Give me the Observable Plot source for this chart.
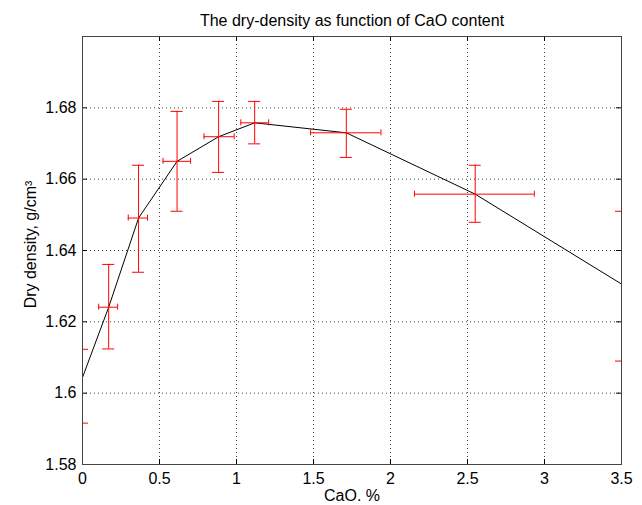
<!DOCTYPE html>
<html><head><meta charset="utf-8">
<script src="https://cdn.jsdelivr.net/npm/d3@7"></script>
<script src="https://cdn.jsdelivr.net/npm/@observablehq/plot@0.6"></script>
<style>
body{margin:0;background:#fff;}
#chart svg{display:block;}
</style></head><body><div id="chart"></div>
<script>
const title = "The dry-density as function of CaO content";
const xLabel = "CaO. %";
const yLabel = "Dry density, g/cm³";
const xTicks = [0, 0.5, 1, 1.5, 2, 2.5, 3, 3.5];
const yTicks = [1.58, 1.6, 1.62, 1.64, 1.66, 1.68];
const xDomain = [0, 3.5];
const yDomain = [1.58, 1.70];

// measured points (CaO %, dry density) with error bounds
const cao         = [0,      0.170,  0.364,  0.614,  0.884,  1.118,  1.713,  2.550,  3.5];
const density     = [1.602,  1.6241, 1.6491, 1.665,  1.6719, 1.6758, 1.673,  1.6558, 1.630];
const densityLow  = [1.5916, 1.6124, 1.6339, 1.651,  1.6619, 1.6699, 1.6661, 1.6479, 1.609];
const densityHigh = [1.6123, 1.6361, 1.6639, 1.679,  1.6818, 1.6818, 1.6796, 1.6639, 1.651];
const caoLow      = [null,   0.105,  0.297,  0.523,  0.789,  1.028,  1.481,  2.156,  null];
const caoHigh     = [null,   0.228,  0.422,  0.702,  0.985,  1.209,  1.938,  2.934,  null];
// fitted curve through the points
const fitDensity  = [1.6044, 1.6241, 1.6491, 1.665,  1.6719, 1.6758, 1.673,  1.6558, 1.6306];

const pts = cao.map((x, i) => ({x, y: density[i], lo: densityLow[i], hi: densityHigh[i], xlo: caoLow[i], xhi: caoHigh[i]}));
const hpts = pts.filter(d => d.xlo != null);
const fit = cao.map((x, i) => ({x, y: fitDensity[i]}));

const W = 642, H = 505, mL = 82, mR = 21, mT = 36, mB = 41;
const pw = W - mL - mR, ph = H - mT - mB;
const tick = 5;
const red = "#ff0000";
const grid = {stroke: "#000", strokeOpacity: 0.75, strokeDasharray: "1,3"};

const chart = Plot.plot({
  width: W, height: H,
  marginLeft: mL, marginRight: mR, marginTop: mT, marginBottom: mB,
  style: {fontFamily: "'Liberation Sans', Arial, sans-serif", fontSize: "16px", color: "#000", background: "#fff"},
  x: {domain: xDomain},
  y: {domain: yDomain},
  marks: [
    Plot.gridX(xTicks, grid),
    Plot.gridY(yTicks, grid),
    Plot.ruleX(xTicks, {insetTop: ph - tick, stroke: "#000"}),
    Plot.ruleX(xTicks, {insetBottom: ph - tick, stroke: "#000"}),
    Plot.ruleY(yTicks, {insetRight: pw - tick, stroke: "#000"}),
    Plot.ruleY(yTicks, {insetLeft: pw - tick, stroke: "#000"}),
    Plot.axisX(xTicks, {tickSize: 0, tickPadding: 8.5, label: null, tickFormat: d => String(d)}),
    Plot.axisY(yTicks, {tickSize: 0, tickPadding: 6, label: null, tickFormat: d => String(+d.toFixed(2))}),
    Plot.line(fit, {x: "x", y: "y", stroke: "#000", strokeWidth: 1, clip: true}),
    Plot.ruleX(pts, {x: "x", y1: "lo", y2: "hi", stroke: red, clip: true}),
    Plot.ruleY(pts, {y: "lo", x1: "x", x2: "x", insetLeft: -6, insetRight: -6, stroke: red, clip: true}),
    Plot.ruleY(pts, {y: "hi", x1: "x", x2: "x", insetLeft: -6, insetRight: -6, stroke: red, clip: true}),
    Plot.ruleY(hpts, {y: "y", x1: "xlo", x2: "xhi", stroke: red, clip: true}),
    Plot.ruleX(hpts, {x: "xlo", y1: "y", y2: "y", insetTop: -3, insetBottom: -3, stroke: red, clip: true}),
    Plot.ruleX(hpts, {x: "xhi", y1: "y", y2: "y", insetTop: -3, insetBottom: -3, stroke: red, clip: true}),
    Plot.frame({stroke: "#444"}),
    Plot.text([title], {frameAnchor: "top", lineAnchor: "middle", textAnchor: "middle", dy: -15.4, text: d => d}),
    Plot.text([xLabel], {frameAnchor: "bottom", lineAnchor: "middle", textAnchor: "middle", dy: 31.5, text: d => d}),
    Plot.text([yLabel], {frameAnchor: "left", lineAnchor: "middle", textAnchor: "middle", dx: -52, dy: -6, rotate: -90, text: d => d})
  ]
});
document.getElementById("chart").appendChild(chart);
</script>
</body></html>
